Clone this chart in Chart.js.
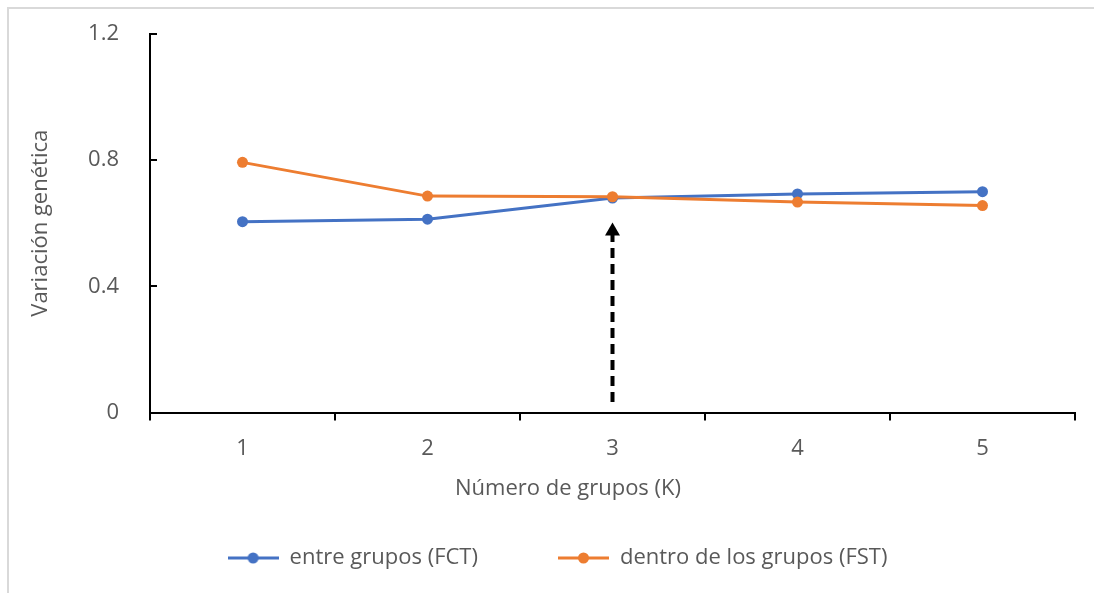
<!DOCTYPE html>
<html>
<head>
<meta charset="utf-8">
<script src="https://cdn.jsdelivr.net/npm/chart.js@4"></script>
<style>
  html, body { margin: 0; padding: 0; background: #fff; }
  #frame { position: absolute; left: 7px; top: 7px; width: 1087px; height: 586px;
           border-top: 2px solid #d9d9d9; border-left: 2px solid #d9d9d9; box-sizing: border-box; }
  #chart { position: absolute; left: 0; top: 0; }
</style>
</head>
<body>
<div id="frame"></div>
<canvas id="chart" width="1094" height="593"></canvas>
<script>
const grupos = ['1', '2', '3', '4', '5'];
const entreGrupos = [0.605, 0.613, 0.680, 0.693, 0.700];   // FCT
const dentroGrupos = [0.793, 0.686, 0.684, 0.667, 0.656];  // FST
const yTicks = [0, 0.4, 0.8, 1.2];
// flecha punteada en K = 3
const flechaK = '3';
const flechaDesde = 0.033;
const flechaHasta = 0.602;

const azul = '#4472C4';
const naranja = '#ED7D31';
const gris = '#595959';
const fuente = "'Open Sans', sans-serif";

function muestra(color) {
    const c = document.createElement('canvas');
    c.width = 51; c.height = 12;
    const g = c.getContext('2d');
    g.strokeStyle = color; g.lineWidth = 3;
    g.beginPath(); g.moveTo(0, 6); g.lineTo(51, 6); g.stroke();
    g.fillStyle = color;
    g.beginPath(); g.arc(25.5, 6, 5.5, 0, Math.PI * 2); g.fill();
    return c;
}

const extras = {
    id: 'extras',
    afterLayout(chart) {
        // Excel centra la leyenda un poco a la derecha
        chart.legend.left += 20;
        chart.legend.right += 20;
    },
    afterDatasetsDraw(chart) {
        const { ctx, scales: { x, y } } = chart;
        const px = x.getPixelForValue(grupos.indexOf(flechaK));
        const y0 = y.getPixelForValue(flechaDesde);
        const y1 = y.getPixelForValue(flechaHasta);
        ctx.save();
        ctx.strokeStyle = '#000';
        ctx.lineWidth = 4;
        ctx.setLineDash([10, 6]);
        ctx.beginPath();
        ctx.moveTo(px, y0);
        ctx.lineTo(px, y1 + 12);
        ctx.stroke();
        ctx.setLineDash([]);
        ctx.fillStyle = '#000';
        ctx.beginPath();
        ctx.moveTo(px, y1);
        ctx.lineTo(px - 7.5, y1 + 13);
        ctx.lineTo(px + 7.5, y1 + 13);
        ctx.closePath();
        ctx.fill();
        ctx.restore();
    },
    afterDraw(chart) {
        // título del eje x (Excel lo desplaza a la izquierda del centro)
        const { ctx } = chart;
        ctx.save();
        ctx.font = '22px ' + fuente;
        ctx.fillStyle = gris;
        ctx.textAlign = 'center';
        ctx.textBaseline = 'middle';
        ctx.fillText('Número de grupos (K)', 568, 489);
        ctx.restore();
    }
};

const ctx = document.getElementById('chart').getContext('2d');
new Chart(ctx, {
    type: 'line',
    data: {
        labels: grupos,
        datasets: [
            {
                label: 'entre grupos (FCT)',
                data: entreGrupos,
                borderColor: azul,
                backgroundColor: azul,
                borderWidth: 3,
                pointRadius: 5.5,
                pointBorderWidth: 0,
                tension: 0,
                order: 1
            },
            {
                label: 'dentro de los grupos (FST)',
                data: dentroGrupos,
                borderColor: naranja,
                backgroundColor: naranja,
                borderWidth: 3,
                pointRadius: 5.5,
                pointBorderWidth: 0,
                tension: 0,
                order: 0
            }
        ]
    },
    options: {
        responsive: false,
        animation: false,
        events: [],
        layout: { padding: { top: 34, right: 19, left: 0, bottom: 14 } },
        plugins: {
            tooltip: { enabled: false },
            legend: {
                position: 'bottom',
                labels: {
                    usePointStyle: true,
                    pointStyleWidth: 51,
                    padding: 80,
                    color: gris,
                    font: { family: fuente, size: 22 },
                    generateLabels(chart) {
                        return chart.data.datasets.map((ds, i) => ({
                            text: ds.label,
                            pointStyle: muestra(ds.borderColor),
                            fontColor: gris,
                            lineWidth: 0,
                            hidden: false,
                            datasetIndex: i
                        }));
                    }
                }
            }
        },
        scales: {
            x: {
                offset: true,
                grid: {
                    display: true,
                    offset: true,
                    drawOnChartArea: false,
                    drawTicks: true,
                    tickLength: 8,
                    color: '#000',
                    lineWidth: 2
                },
                border: { display: true, color: '#000', width: 2 },
                ticks: { color: gris, padding: 15, font: { family: fuente, size: 22 } },
                afterFit(scale) { scale.height = 54.5; }
            },
            y: {
                min: 0,
                max: 1.2,
                afterBuildTicks(scale) { scale.ticks = yTicks.map(v => ({ value: v })); },
                grid: {
                    display: true,
                    drawOnChartArea: false,
                    drawTicks: true,
                    tickLength: -7,
                    color: '#000',
                    lineWidth: 2
                },
                border: { display: true, color: '#000', width: 2 },
                ticks: {
                    color: gris,
                    padding: 38,
                    font: { family: fuente, size: 22 },
                    callback: v => String(v)
                },
                title: {
                    display: true,
                    text: 'Variación genética',
                    color: gris,
                    font: { family: fuente, size: 22 },
                    padding: { top: 28, bottom: 0 }
                },
                afterFit(scale) {
                    scale.width = 150;
                    scale.paddingTop = 0;
                    scale.paddingBottom = 0;
                }
            }
        }
    },
    plugins: [extras]
});
</script>
</body>
</html>
